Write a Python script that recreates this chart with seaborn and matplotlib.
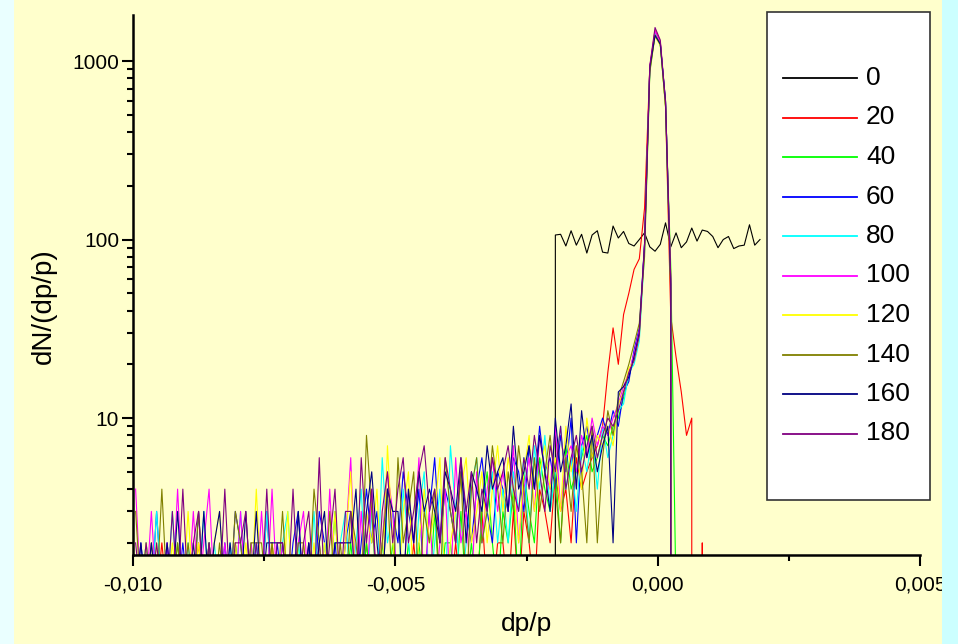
import numpy as np
import pandas as pd
import matplotlib
matplotlib.use("Agg")
import matplotlib.pyplot as plt
import seaborn as sns
from matplotlib.patches import Rectangle
from matplotlib.ticker import FixedLocator, NullFormatter, LogLocator

# momentum-deviation histogram bins
BIN_START = -0.00995
BIN_WIDTH = 0.0001

series_labels = ["0", "20", "40", "60", "80", "100", "120", "140", "160", "180"]
series_colors = ["#000000", "#FF0000", "#00FF00", "#0000FF", "#00FFFF",
                 "#FF00FF", "#FFFF00", "#808000", "#000080", "#800080"]

# initial flat distribution, counts starting at bin 79
start_0 = 79
counts_0 = [0,
            106, 107, 92, 112, 93, 107, 84, 106, 112, 85,
            84, 119, 102, 111, 95, 92, 100, 109, 91, 86,
            94, 124, 91, 109, 90, 97, 116, 98, 113, 111,
            104, 90, 100, 104, 89, 92, 93, 121, 93, 100]

# counts per bin, starting at bin 0
counts_20 = [1,1,0,1,1,2,1,1,0,1, 1,1,2,1,1,0,1,1,1,2, 1,1,0,1,1,1,2,1,1,1, 0,1,1,2,1,1,1,0,1,1,
             1,1,0,1,2,1,1,1,0,1, 1,1,1,2,1,0,1,1,1,1, 1,2,1,1,0,1,3,1,1,2,
             2,1,3,1,3,2,1,4,3,2, 5,3,4,2,6,4,5,6,7,9,
             18,32,20,38,50,68,78,150,920,1480, 1280,560,37,22,14,8,10,0,2,0]
counts_40 = [1,1,2,1,0,1,1,1,2,1, 1,0,1,1,2,1,1,1,1,2, 1,1,2,1,1,0,1,1,2,1, 1,2,1,1,1,2,1,1,3,1,
             1,2,1,1,2,1,1,2,1,2, 1,1,2,1,2,1,1,3,1,2, 2,1,3,1,2,1,3,5,2,1,
             3,2,4,1,5,3,2,6,4,3, 5,2,7,4,5,6,8,5,6,8,
             7,9,10,13,17,22,30,88,880,1420, 1230,560,70,1,0,0,0,0,0,0]
counts_60 = [1,2,1,1,3,1,2,1,1,2, 1,1,3,1,2,1,1,2,1,3, 2,1,1,2,1,3,1,2,1,1, 2,3,1,2,1,3,2,1,2,1,
             2,3,1,2,4,2,3,1,4,3, 2,5,3,2,4,1,3,6,2,4, 3,2,5,3,2,4,6,3,2,5,
             4,3,6,5,3,7,4,9,5,6, 4,8,5,10,2,7,9,6,8,10,
             8,11,9,14,16,24,32,95,910,1400, 1260,590,60,0,0,0,0,0,0,0]
counts_80 = [1,1,2,1,3,1,1,3,1,1, 2,1,1,3,1,2,1,1,2,1, 3,1,1,2,1,3,1,1,2,3, 1,2,1,1,3,1,2,1,1,2,
             3,1,2,4,1,3,1,6,2,3, 1,4,2,1,3,5,1,2,4,1, 7,3,1,2,4,6,2,3,5,2,
             4,2,5,3,6,2,7,4,8,3, 5,9,4,6,3,7,5,8,4,9,
             6,8,11,12,18,20,27,85,890,1430, 1240,570,55,0,0,0,0,0,0,0]
counts_100 = [4,1,1,3,1,1,2,1,4,1, 1,3,1,2,4,1,1,2,1,1, 3,1,2,1,3,1,4,1,2,1, 1,2,3,1,1,2,1,4,1,2,
              2,6,1,3,1,4,1,2,5,3, 1,1,4,2,6,1,3,1,2,4, 1,6,2,3,1,5,2,4,6,3,
              5,3,7,2,4,6,3,8,5,4, 9,3,6,7,5,8,6,10,7,9,
              8,10,12,15,18,23,31,92,930,1470, 1270,580,58,0,0,0,0,0,0,0]
counts_120 = [1,1,2,1,2,1,1,2,1,1, 3,1,2,1,1,2,3,1,1,2, 1,2,1,4,1,1,2,1,1,3, 1,1,2,1,2,1,2,1,3,1,
              2,5,1,1,3,2,4,1,7,2, 1,3,5,1,2,4,2,3,6,1, 2,3,4,6,2,3,5,2,4,7,
              3,6,4,2,5,8,3,5,7,4, 6,3,9,5,7,4,10,6,8,7,
              9,7,12,14,19,21,29,90,900,1370, 1220,570,62,0,0,0,0,0,0,0]
counts_140 = [3,1,1,2,1,4,1,1,2,1, 2,1,3,1,2,1,2,1,1,3, 2,1,2,2,2,1,2,1,3,1, 1,2,2,1,4,2,1,3,1,2,
              1,3,2,1,8,3,1,2,4,1, 6,2,3,5,1,3,2,4,1,6, 3,2,5,1,4,6,2,3,7,4,
              2,5,3,7,4,2,6,3,5,8, 4,2,6,3,7,5,2,9,2,6,
              11,8,13,16,20,26,34,80,860,1400, 1250,550,50,0,0,0,0,0,0,0]
counts_160 = [1,2,1,2,1,1,2,1,3,1, 1,2,1,3,1,2,3,1,2,1, 1,3,1,3,1,2,2,2,2,1, 1,3,1,2,1,2,3,1,2,2,
              2,2,4,1,3,5,2,1,4,3, 3,1,4,2,5,3,4,3,2,5, 4,3,6,2,5,4,3,7,4,5,
              6,3,9,4,5,7,4,8,5,3, 10,5,7,12,4,11,6,8,5,7,
              9,2,14,15,17,22,30,95,920,1390, 1240,600,56,0,0,0,0,0,0,0]
counts_180 = [2,1,2,1,2,1,1,3,1,4, 1,2,3,1,2,1,1,4,1,2, 2,3,1,2,1,4,1,2,2,1, 4,1,2,3,1,6,1,2,4,1,
              3,3,1,6,2,4,1,3,5,2, 4,6,2,3,5,7,3,4,2,6, 4,2,6,3,5,2,4,3,6,4,
              5,7,4,3,6,4,8,5,3,7, 5,9,4,6,8,5,7,9,6,8,
              10,9,11,14,18,21,29,93,940,1540, 1310,590,60,0,0,0,0,0,0,0]

all_counts = [counts_0, counts_20, counts_40, counts_60, counts_80,
              counts_100, counts_120, counts_140, counts_160, counts_180]
starts = [start_0] + [0] * 9

frames = []
for lab, cnt, st in zip(series_labels, all_counts, starts):
    idx = np.arange(st, st + len(cnt))
    frames.append(pd.DataFrame({"dp/p": BIN_START + BIN_WIDTH * idx,
                                "dN": cnt, "turn": lab}))
df = pd.concat(frames, ignore_index=True)

W, H = 958, 644
fig = plt.figure(figsize=(W / 100, H / 100), dpi=100)
fig.patch.set_facecolor("#FFFFCC")
plt.rcParams["font.family"] = ["Liberation Sans", "DejaVu Sans"]

ax_l, ax_r, ax_t, ax_b = 133, 920, 15, 555
ax = fig.add_axes([ax_l / W, 1 - ax_b / H, (ax_r - ax_l) / W, (ax_b - ax_t) / H])
ax.set_facecolor("#FFFFCC")

sns.lineplot(data=df, x="dp/p", y="dN", hue="turn", hue_order=series_labels,
             palette=dict(zip(series_labels, series_colors)), estimator=None,
             linewidth=0.8, ax=ax, legend=False)

ax.set_yscale("log", nonpositive="clip")
ax.set_xlim(-0.010, 0.005)
ax.set_ylim(1.71, 1810)

for s in ["top", "right"]:
    ax.spines[s].set_visible(False)
for s in ["left", "bottom"]:
    ax.spines[s].set_linewidth(1.8)
    ax.spines[s].set_color("black")

ax.xaxis.set_major_locator(FixedLocator([-0.010, -0.005, 0.0, 0.005]))
ax.set_xticklabels(["-0,010", "-0,005", "0,000", "0,005"])
ax.xaxis.set_minor_locator(FixedLocator([-0.0075, -0.0025, 0.0025]))
ax.yaxis.set_major_locator(FixedLocator([10, 100, 1000]))
ax.set_yticklabels(["10", "100", "1000"])
ax.yaxis.set_minor_locator(LogLocator(base=10, subs=np.arange(2, 10)))
ax.yaxis.set_minor_formatter(NullFormatter())

ax.tick_params(which="major", direction="out", length=8, width=1.5,
               labelsize=15, colors="black")
ax.tick_params(which="minor", direction="out", length=4.5, width=1.5)
ax.tick_params(axis="x", which="major", pad=7)
ax.tick_params(axis="y", which="major", pad=2)

ax.set_xlabel("dp/p", fontsize=19)
ax.set_ylabel("dN/(dp/p)", fontsize=20)
ax.xaxis.set_label_coords(0.5, -0.106)
ax.yaxis.set_label_coords(-0.097, 0.46)

# legend box
box = Rectangle((767 / W, 1 - 500 / H), (930 - 767) / W, (500 - 12) / H,
                transform=fig.transFigure, facecolor="white", edgecolor="#333333",
                linewidth=1.2, zorder=5)
fig.add_artist(box)
for k, (lab, col) in enumerate(zip(series_labels, series_colors)):
    yk = 78 + 39.5 * k
    fig.add_artist(plt.Line2D([783 / W, 857 / W], [1 - yk / H, 1 - yk / H],
                              transform=fig.transFigure, color=col,
                              linewidth=1.3, zorder=6))
    fig.text(866 / W, 1 - yk / H, lab, fontsize=19, va="center", ha="left",
             zorder=6)

# side strips
fig.add_artist(Rectangle((0, 0), 14 / W, 1, transform=fig.transFigure,
                         facecolor="#EAFFFF", edgecolor="none", zorder=10))
fig.add_artist(Rectangle((942 / W, 0), 16 / W, 1, transform=fig.transFigure,
                         facecolor="#CCFFFF", edgecolor="none", zorder=10))

fig.savefig("out.png", dpi=100, facecolor=fig.get_facecolor())
